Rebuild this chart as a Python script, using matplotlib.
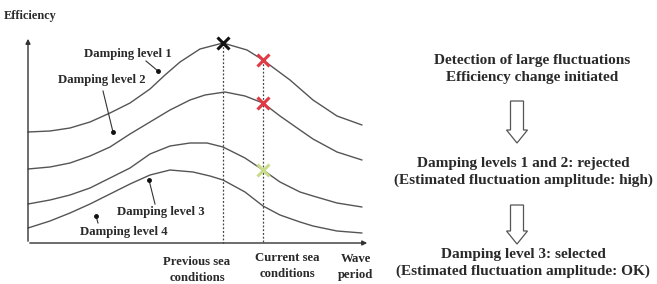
import matplotlib.pyplot as plt
from matplotlib.patches import Polygon

# Curve shapes (pixel coordinates, y grows downward)
x_pts = [28, 50, 70, 90, 110, 130, 150, 165, 180, 200, 223, 247, 263, 290, 313, 337, 362]
level1 = [132, 131, 128, 122, 113, 103, 89, 75, 62, 49, 43, 50, 60, 80, 100, 116, 125]

x_pts2 = [28, 50, 70, 90, 110, 130, 150, 170, 190, 205, 225, 245, 263, 280, 300, 313, 337, 362]
level2 = [169, 167, 163, 156, 147, 134, 122, 110, 100, 95, 92, 96, 103, 116, 130, 139, 152, 160]

x_pts3 = [28, 50, 70, 90, 110, 130, 150, 170, 190, 207, 223, 245, 263, 280, 300, 313, 337, 362]
level3 = [204, 200, 195, 188, 178, 168, 154, 146, 143, 143, 147, 158, 170, 182, 192, 196, 203, 207]

x_pts4 = [28, 50, 70, 90, 110, 130, 150, 170, 193, 210, 223, 245, 263, 280, 300, 313, 337, 362]
level4 = [228, 221, 213, 204, 194, 184, 175, 170, 172, 176, 180, 192, 206, 215, 222, 226, 231, 233]

prev_x, prev_y = 223, 43
curr_x = 263
curr_y = [60, 103, 170]
curr_colors = ['#e03a45', '#e03a45', '#c9dc8a']

flow_text = [
    "Detection of large fluctuations\nEfficiency change initiated",
    "Damping levels 1 and 2: rejected\n(Estimated fluctuation amplitude: high)",
    "Damping level 3: selected\n(Estimated fluctuation amplitude: OK)",
]

fig = plt.figure(figsize=(6.57, 2.84), dpi=100)
ax = fig.add_axes([0, 0, 1, 1])
ax.set_xlim(0, 657)
ax.set_ylim(284, 0)
ax.axis('off')

font = dict(family='Liberation Serif', fontweight='bold', color='#2a2a2a')
line_col = '#555555'

# axes with arrows
ax.annotate('', xy=(28, 36), xytext=(28, 244),
            arrowprops=dict(arrowstyle='-|>', color='#333333', lw=1.0, mutation_scale=7))
ax.annotate('', xy=(370, 243), xytext=(27, 243),
            arrowprops=dict(arrowstyle='-|>', color='#333333', lw=1.0, mutation_scale=7))
ax.text(4, 16, 'Efficiency', fontsize=8.8, va='center', ha='left', **font)

# curves
for xs, ys in [(x_pts, level1), (x_pts2, level2), (x_pts3, level3), (x_pts4, level4)]:
    ax.plot(xs, ys, color=line_col, lw=1.0, solid_capstyle='round')

# dotted verticals
ax.plot([prev_x, prev_x], [prev_y, 243], color='#444444', lw=0.9, ls=(0, (1.5, 1.5)))
ax.plot([curr_x, curr_x], [curr_y[0], 243], color='#444444', lw=0.9, ls=(0, (1.5, 1.5)))

# markers
ax.plot(prev_x, prev_y, marker='x', color='#111111', ms=8, mew=2.2)
for cy, cc in zip(curr_y, curr_colors):
    ax.plot(curr_x, cy, marker='x', color=cc, ms=9, mew=2.2)

# curve labels with pointers
labels = [
    ('Damping level 1', 128, 54, (146, 61), (158, 71)),
    ('Damping level 2', 102, 80, (103, 91), (113, 132)),
    ('Damping level 3', 161, 212, (155, 204), (149, 180)),
    ('Damping level 4', 124, 232, (98, 223), (96, 216)),
]
for txt, tx, ty, p0, p1 in labels:
    ax.text(tx, ty, txt, fontsize=9.2, ha='center', va='center', **font)
    ax.plot([p0[0], p1[0]], [p0[1], p1[1]], color='#333333', lw=0.8)
    ax.plot(p1[0], p1[1], marker='o', color='#111111', ms=2.5)

# x-axis labels
ax.text(197, 270, 'Previous sea\nconditions', fontsize=9.2, ha='center', va='center',
        linespacing=1.4, **font)
ax.text(287, 266, 'Current sea\nconditions', fontsize=9.2, ha='center', va='center',
        linespacing=1.4, **font)
ax.text(356, 267, 'Wave\nperiod', fontsize=9.2, ha='center', va='center',
        linespacing=1.4, **font)

# flow chart on the right
ax.text(532, 69, flow_text[0], fontsize=11, ha='center', va='center', linespacing=1.4, **font)
ax.text(523, 172, flow_text[1], fontsize=11, ha='center', va='center', linespacing=1.4, **font)
ax.text(523, 263, flow_text[2], fontsize=11, ha='center', va='center', linespacing=1.4, **font)


def hollow_arrow(cx, top, bottom, shaft=6.5, head=10.5, head_h=13):
    pts = [(cx - shaft, top), (cx + shaft, top), (cx + shaft, bottom - head_h),
           (cx + head, bottom - head_h), (cx, bottom), (cx - head, bottom - head_h),
           (cx - shaft, bottom - head_h)]
    ax.add_patch(Polygon(pts, closed=True, fill=False, edgecolor='#555555', lw=0.9))


hollow_arrow(517, 101, 143)
hollow_arrow(517, 205, 244)

fig.savefig('out.png', dpi=100)
